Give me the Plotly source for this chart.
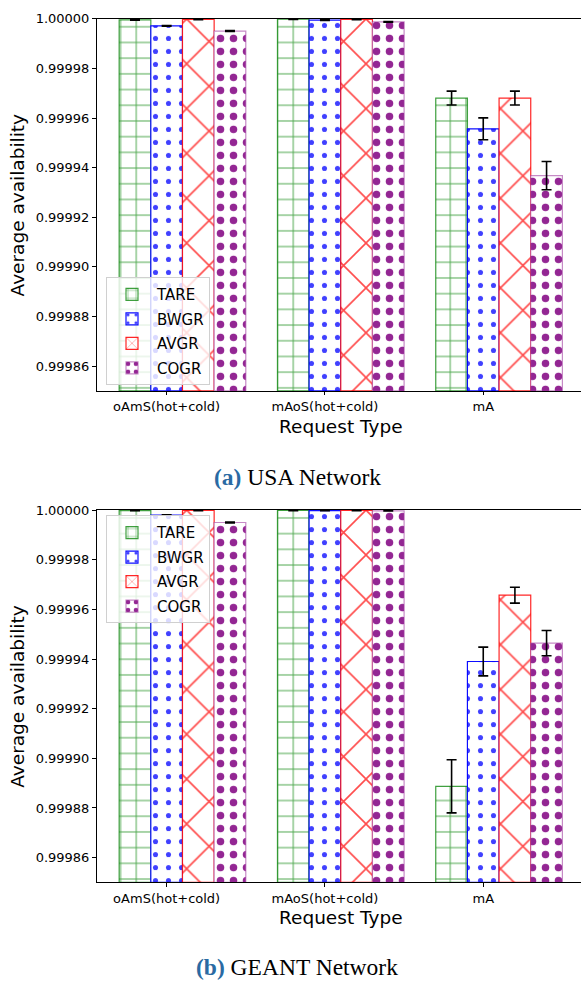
import plotly.graph_objects as go

# Request types on the x axis
categories = ["oAmS(hot+cold)", "mAoS(hot+cold)", "mA"]
algorithms = ["TARE", "BWGR", "AVGR", "COGR"]

# (a) USA network: mean availability and error per algorithm
usa_tare = [0.9999996, 0.9999999, 0.9999681]
usa_bwgr = [0.9999972, 0.9999995, 0.9999557]
usa_avgr = [0.9999998, 0.9999998, 0.9999681]
usa_cogr = [0.9999951, 0.9999988, 0.9999368]
usa_tare_err = [0.0000001, 0.0000001, 0.0000028]
usa_bwgr_err = [0.0000001, 0.0000001, 0.0000044]
usa_avgr_err = [0.0000001, 0.0000001, 0.0000028]
usa_cogr_err = [0.0000002, 0.0000001, 0.0000057]

# (b) GEANT network
geant_tare = [0.9999998, 0.9999999, 0.9998887]
geant_bwgr = [0.9999980, 0.9999998, 0.9999390]
geant_avgr = [0.9999999, 0.9999999, 0.9999657]
geant_cogr = [0.9999950, 0.9999997, 0.9999464]
geant_tare_err = [0.0000001, 0.0000001, 0.0000107]
geant_bwgr_err = [0.0000001, 0.0000001, 0.0000058]
geant_avgr_err = [0.0000001, 0.0000001, 0.0000032]
geant_cogr_err = [0.0000002, 0.0000001, 0.0000051]

y_ticks = [0.99986, 0.99988, 0.99990, 0.99992, 0.99994, 0.99996, 0.99998, 1.00000]
Y_MIN, Y_MAX = 0.99985, 1.0

W, H = 581, 981
BAR_W = 0.2
# bar offsets relative to each tick (tick sits under the second bar)
offsets = [-0.2, 0.0, 0.2, 0.4]

styles = {
    "TARE": dict(shape="+", size=15.7, solidity=0.12, fg="rgb(0,128,0)",
                 edge="rgba(0,128,0,0.75)", op=0.7),
    "BWGR": dict(shape=".", size=13, solidity=0.12, fg="rgb(0,0,255)",
                 edge="rgba(0,0,255,0.95)", op=0.75),
    "AVGR": dict(shape="x", size=31.7, solidity=0.1, fg="rgb(255,0,0)",
                 edge="rgba(255,0,0,0.85)", op=0.7),
    "COGR": dict(shape=".", size=13, solidity=0.26, fg="rgb(128,0,128)",
                 edge="rgba(160,60,160,0.6)", op=0.85),
}

fig = go.Figure()

panels = [
    (["x", "y"], "legend",
     [usa_tare, usa_bwgr, usa_avgr, usa_cogr],
     [usa_tare_err, usa_bwgr_err, usa_avgr_err, usa_cogr_err]),
    (["x2", "y2"], "legend2",
     [geant_tare, geant_bwgr, geant_avgr, geant_cogr],
     [geant_tare_err, geant_bwgr_err, geant_avgr_err, geant_cogr_err]),
]

for (xa, ya), leg, series, errs in panels:
    for name, off, vals, err in zip(algorithms, offsets, series, errs):
        s = styles[name]
        fig.add_trace(go.Bar(
            x=[i + off for i in range(len(categories))],
            y=[v - Y_MIN for v in vals],
            base=Y_MIN,
            width=BAR_W,
            name=name,
            xaxis=xa, yaxis=ya,
            legend=leg,
            legendgroup=leg + name,
            marker=dict(
                color="white",
                line=dict(color=s["edge"], width=1.2),
                pattern=dict(shape=s["shape"], size=s["size"],
                             solidity=s["solidity"], fgcolor=s["fg"],
                             bgcolor="white", fgopacity=s["op"]),
            ),
            error_y=dict(type="data", array=err, visible=True,
                         color="black", thickness=1.6, width=5),
        ))

# plot areas in pixels (top, bottom)
left_px = 97
panels_px = [(12, 386.7), (506.7, 881.7)]
xr = [-0.44, -0.44 + (W - left_px) / 158.3]

axis_font = dict(family="DejaVu Sans", size=13, color="black")
common_x = dict(range=xr, tickvals=list(range(len(categories))), ticktext=categories,
                showline=True, linecolor="black", linewidth=1, mirror=True,
                ticks="outside", ticklen=3.5, tickcolor="black", showgrid=False,
                zeroline=False, tickfont=axis_font)
common_y = dict(range=[Y_MIN, Y_MAX], tickvals=y_ticks, tickformat=".5f",
                showline=True, linecolor="black", linewidth=1,
                ticks="outside", ticklen=4, tickcolor="black", showgrid=False,
                zeroline=False, tickfont=axis_font)

def ydom(top, bot):
    return [1 - bot / H, 1 - top / H]

fig.update_layout(
    width=W, height=H,
    margin=dict(l=0, r=0, t=0, b=0),
    paper_bgcolor="white", plot_bgcolor="white",
    barmode="overlay",
    xaxis=dict(domain=[left_px / W, 1], anchor="y", **common_x),
    yaxis=dict(domain=ydom(*panels_px[0]), anchor="x", **common_y),
    xaxis2=dict(domain=[left_px / W, 1], anchor="y2", **common_x),
    yaxis2=dict(domain=ydom(*panels_px[1]), anchor="x2", **common_y),
    font=dict(family="DejaVu Sans", color="black"),
)

legend_style = dict(xanchor="left", yanchor="top", bgcolor="rgba(255,255,255,0.8)",
                    bordercolor="#d0d0d0", borderwidth=1,
                    font=dict(family="DejaVu Sans", size=15, color="black"),
                    tracegroupgap=2, itemwidth=40)
fig.update_layout(
    legend=dict(x=106 / W, y=1 - 272 / H, **legend_style),
    legend2=dict(x=106 / W, y=1 - 512 / H, **legend_style),
)

captions = ['<span style="color:#2a6aa3"><b>(a)</b></span> USA Network',
            '<span style="color:#2a6aa3"><b>(b)</b></span> GEANT Network']
caption_y = [473, 966.5]
xtitle_y = [423, 917]

for k, (top, bot) in enumerate(panels_px):
    fig.add_annotation(text="Average availability", textangle=-90,
                       x=17.5 / W, y=1 - (top + bot) / 2 / H, xref="paper", yref="paper",
                       xanchor="center", yanchor="middle", showarrow=False,
                       font=dict(family="DejaVu Sans", size=18.5, color="black"))
    fig.add_annotation(text="Request Type",
                       x=(left_px + 584) / 2 / W, y=1 - xtitle_y[k] / H,
                       xref="paper", yref="paper", xanchor="center", yanchor="middle",
                       showarrow=False, borderpad=0,
                       font=dict(family="DejaVu Sans", size=18.5, color="black"))
    fig.add_annotation(text=captions[k],
                       x=297 / W, y=1 - caption_y[k] / H,
                       xref="paper", yref="paper", xanchor="center", yanchor="middle",
                       showarrow=False,
                       font=dict(family="Liberation Serif", size=23.5, color="black"))

fig.write_html("out.html")
